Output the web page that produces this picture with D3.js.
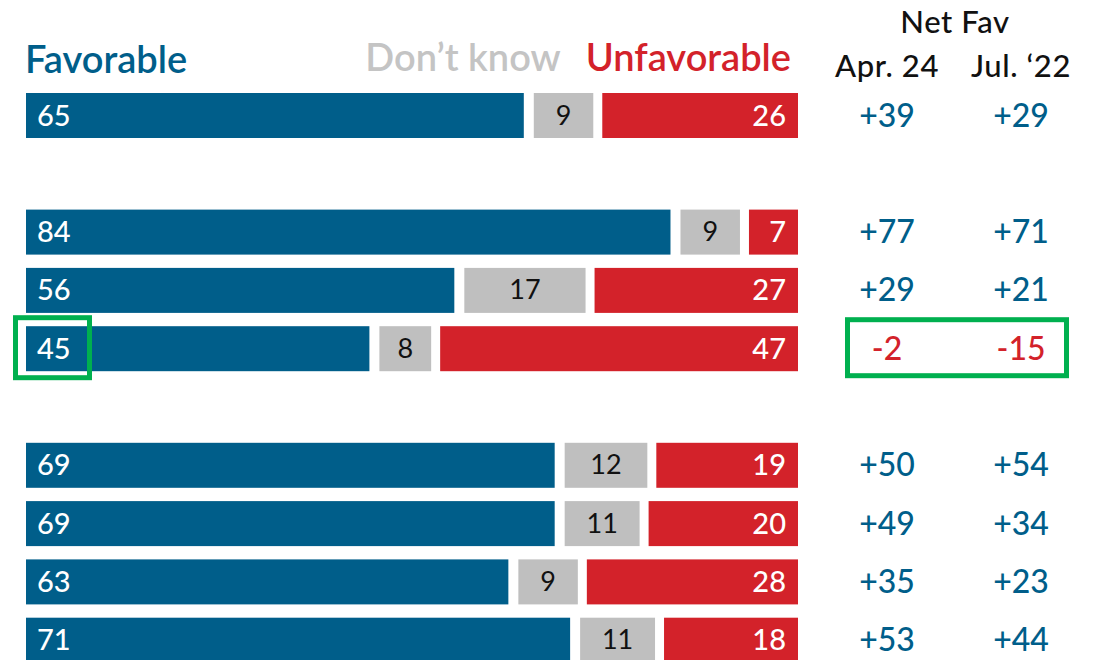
<!DOCTYPE html>
<html lang="en">
<head>
<meta charset="UTF-8">
<title>Favorability</title>
<style>
  body { margin: 0; background: #fff; }
  svg text { font-family: Lato, "Noto Sans", sans-serif; }
</style>
</head>
<body>
<div id="chart"></div>
<script src="https://cdn.jsdelivr.net/npm/d3@7"></script>
<script>
// values, one entry per row
const slots = [0, 2, 3, 4, 6, 7, 8, 9];
const favorable = [65, 84, 56, 45, 69, 69, 63, 71];
const dontKnow = [9, 9, 17, 8, 12, 11, 9, 11];
const unfavorable = [26, 7, 27, 47, 19, 20, 28, 18];
const netApr = [39, 77, 29, -2, 50, 49, 35, 53];
const netJul = [29, 71, 21, -15, 54, 34, 23, 44];
const highlighted = [3];

const blue = "#005e8a", grey = "#bfbfbf", red = "#d3222a", green = "#00b04f";

const width = 1099, height = 660;
const svg = d3.select("#chart").append("svg")
    .attr("width", width)
    .attr("height", height);

const x = d3.scaleLinear().domain([0, 100]).range([26, 798]);
const y = d3.scaleLinear().domain([0, 1]).range([93, 151.3]);
const barH = 45;

const rows = slots.map((s, i) => ({
  slot: s, fav: favorable[i], dk: dontKnow[i], unf: unfavorable[i],
  apr: netApr[i], jul: netJul[i], hi: highlighted.includes(i)
}));

// headers
svg.append("text").attr("x", 25).attr("y", 73)
    .attr("font-size", 38).attr("font-weight", 600).attr("fill", blue)
    .text("Favorable");
svg.append("text").attr("x", 463).attr("y", 71).attr("text-anchor", "middle")
    .attr("font-size", 38).attr("font-weight", 600).attr("fill", "#c4c4c4")
    .text("Don\u2019t know");
svg.append("text").attr("x", 791).attr("y", 71).attr("text-anchor", "end")
    .attr("font-size", 38).attr("font-weight", 600).attr("fill", red)
    .text("Unfavorable");

const colApr = 887, colJul = 1021;
const head = svg.append("g").attr("font-size", 31).attr("fill", "#111")
    .attr("font-weight", 500).attr("letter-spacing", 0.6)
    .attr("text-anchor", "middle");
head.append("text").attr("x", 955).attr("y", 33).text("Net Fav");
head.append("text").attr("x", colApr).attr("y", 77).text("Apr. 24");
head.append("text").attr("x", colJul).attr("y", 77).text("Jul. \u201822");

const g = svg.selectAll("g.row").data(rows).join("g")
    .attr("class", "row")
    .attr("transform", d => `translate(0,${y(d.slot)})`);

g.append("rect")
    .attr("x", x(0))
    .attr("width", d => x(d.fav) - x(0) - 4)
    .attr("height", barH)
    .attr("fill", blue);

g.append("rect")
    .attr("x", d => x(d.fav) + 6)
    .attr("width", d => x(d.fav + d.dk) - x(d.fav) - 10)
    .attr("height", barH)
    .attr("fill", grey);

g.append("rect")
    .attr("x", d => x(d.fav + d.dk) + 5)
    .attr("width", d => x(100) - x(d.fav + d.dk) - 5)
    .attr("height", barH)
    .attr("fill", red);

g.append("text")
    .attr("x", x(0) + 11).attr("y", barH / 2 + 10)
    .attr("font-size", 29).attr("font-weight", 500).attr("fill", "#fff")
    .text(d => d.fav);

g.append("text")
    .attr("x", d => (x(d.fav) + 6 + x(d.fav + d.dk) - 4) / 2)
    .attr("y", barH / 2 + 9)
    .attr("text-anchor", "middle")
    .attr("font-size", 27).attr("fill", "#111")
    .text(d => d.dk);

g.append("text")
    .attr("x", x(100) - 12).attr("y", barH / 2 + 10)
    .attr("text-anchor", "end")
    .attr("font-size", 29).attr("font-weight", 500).attr("fill", "#fff")
    .text(d => d.unf);

const fmt = v => (v > 0 ? "+" : "") + v;
g.append("text")
    .attr("x", colApr).attr("y", barH / 2 + 11)
    .attr("text-anchor", "middle")
    .attr("font-size", 32).attr("font-weight", 500)
    .attr("fill", d => d.apr < 0 ? red : blue)
    .text(d => fmt(d.apr));
g.append("text")
    .attr("x", colJul).attr("y", barH / 2 + 11)
    .attr("text-anchor", "middle")
    .attr("font-size", 32).attr("font-weight", 500)
    .attr("fill", d => d.jul < 0 ? red : blue)
    .text(d => fmt(d.jul));

// green highlight boxes
const hi = g.filter(d => d.hi);
hi.append("rect")
    .attr("x", 15.5).attr("y", -8.5)
    .attr("width", 74).attr("height", 60)
    .attr("fill", "none").attr("stroke", green).attr("stroke-width", 5);
hi.append("rect")
    .attr("x", 847.5).attr("y", -6.5)
    .attr("width", 219).attr("height", 56)
    .attr("fill", "none").attr("stroke", green).attr("stroke-width", 5);
</script>
</body>
</html>
